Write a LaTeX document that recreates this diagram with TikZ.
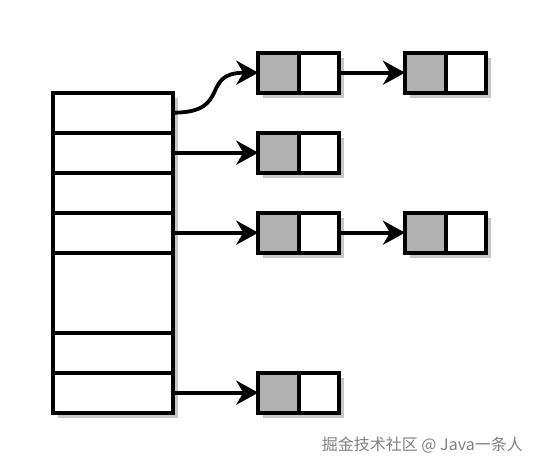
\documentclass[tikz,border=0pt]{standalone}
\usepackage{fontspec}
\newfontfamily\cjk{Noto Sans CJK SC}
\usetikzlibrary{arrows.meta,backgrounds}

\begin{document}
\begin{tikzpicture}[x=1pt, y=-1pt, line width=3.8pt,
  slot/.style={draw, fill=white, inner sep=0pt, outer sep=0pt, minimum width=120.6pt, minimum height=40pt},
  keycell/.style={draw, fill=black!30, inner sep=0pt, outer sep=0pt, minimum width=41pt, minimum height=40pt},
  nextcell/.style={draw, fill=white, inner sep=0pt, outer sep=0pt, minimum width=39.7pt, minimum height=40pt},
  link/.style={-{Stealth[length=22pt, width=24pt, inset=7pt]}}]
  \useasboundingbox (0,0) rectangle (542,470);
  % bucket array
  \node[slot] (r1) at (113,112.7) {};
  \node[slot] (r2) at (113,152.7) {};
  \node[slot] (r3) at (113,192.7) {};
  \node[slot] (r4) at (113,232.7) {};
  \node[slot, minimum height=80pt] (r5) at (113,292.7) {};
  \node[slot] (r6) at (113,352.7) {};
  \node[slot] (r7) at (113,392.7) {};
  % list entries
  \node[keycell] (k1) at (278.8,72.7) {};
  \node[nextcell] (n1) at (319.2,72.7) {};
  \node[keycell] (k2) at (425.5,72.7) {};
  \node[nextcell] (n2) at (466.3,72.7) {};
  \node[keycell] (k3) at (278.8,152.7) {};
  \node[nextcell] (n3) at (319.2,152.7) {};
  \node[keycell] (k4) at (278.8,232.7) {};
  \node[nextcell] (n4) at (319.2,232.7) {};
  \node[keycell] (k5) at (425.5,232.7) {};
  \node[nextcell] (n5) at (466.3,232.7) {};
  \node[keycell] (k6) at (278.8,392.7) {};
  \node[nextcell] (n6) at (319.2,392.7) {};
  % shadows
  \begin{scope}[on background layer]
    \foreach \n in {r1,r2,r3,r4,r5,r6,r7,k1,n1,k2,n2,k3,n3,k4,n4,k5,n5,k6,n6}
      \fill[black!22] ([shift={(5,5)}]\n.north west) rectangle ([shift={(5,5)}]\n.south east);
  \end{scope}
  % pointers
  \draw[link] (r1.east) to[out=0, in=180, looseness=1.6] (k1.west);
  \draw[link] (r2.east) -- (k3.west);
  \draw[link] (r4.east) -- (k4.west);
  \draw[link] (r7.east) -- (k6.west);
  \draw[link] (n1.east) -- (k2.west);
  \draw[link] (n4.east) -- (k5.west);
  \node[anchor=east, text=black!50, font=\cjk\fontsize{16pt}{19pt}\selectfont] (mark) at (528,445) {掘金技术社区 @ Java一条人};
\end{tikzpicture}
\end{document}
